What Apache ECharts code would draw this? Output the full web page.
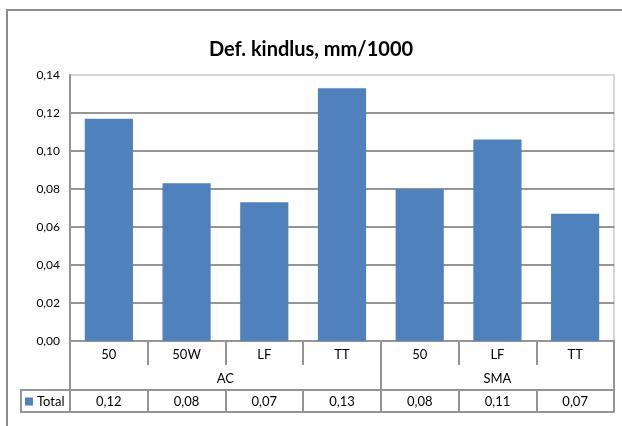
<!DOCTYPE html>
<html>
<head>
<meta charset="utf-8">
<script src="https://cdn.jsdelivr.net/npm/echarts@6/dist/echarts.min.js"></script>
<style>
    html, body { margin: 0; padding: 0; background: #fff; }
    #chart { width: 622px; height: 426px; }
</style>
</head>
<body>
<div id="chart"></div>
<script>
    // data
    const categories = ['50', '50W', 'LF', 'TT', '50', 'LF', 'TT'];
    const groups = ['AC', 'SMA'];
    const groupSizes = [4, 3];
    const totals = [0.117, 0.083, 0.073, 0.133, 0.080, 0.106, 0.067];
    const yMin = 0, yMax = 0.14, yStep = 0.02;

    const fmt = v => v.toFixed(2).replace('.', ',');

    // where each group starts and its centre, in category units
    const groupStarts = [];
    const groupCenters = [];
    let acc = 0;
    groupSizes.forEach(n => {
        groupStarts.push(acc);
        groupCenters.push(acc + n / 2);
        acc += n;
    });

    const lineColor = '#959595';
    const font = 'Lato';

    let chart = echarts.init(document.getElementById('chart'));
    let option = {
        animation: false,
        textStyle: { fontFamily: font, color: '#000' },
        title: {
            text: 'Def. kindlus, mm/1000',
            left: 'center',
            top: 35,
            textStyle: { fontFamily: font, fontSize: 20, fontWeight: 'bold', color: '#000' }
        },
        legend: {
            data: ['Total'],
            left: 25,
            top: 395,
            padding: 0,
            icon: 'rect',
            itemWidth: 8,
            itemHeight: 8,
            itemGap: 4,
            textStyle: { fontFamily: font, fontSize: 13, color: '#000', padding: [0, 0, 0, -1] }
        },
        grid: {
            left: 70, right: 8, top: 75, bottom: 85,
            show: true,
            borderColor: '#d6d6d6',
            borderWidth: 2
        },
        xAxis: [
            {   // sub categories
                type: 'category',
                data: categories,
                position: 'bottom',
                axisLine: { show: true, lineStyle: { color: lineColor, width: 2 } },
                axisTick: { show: true, interval: 0, length: 24, lineStyle: { color: lineColor, width: 2 } },
                axisLabel: { interval: 0, margin: 7, fontSize: 13, color: '#000', fontFamily: font }
            },
            {   // group dividers
                type: 'category',
                data: categories,
                position: 'bottom',
                offset: 24,
                axisLine: { show: false },
                axisLabel: { show: false },
                axisTick: {
                    show: true,
                    interval: i => groupStarts.indexOf(i) >= 0,
                    length: 25,
                    lineStyle: { color: lineColor, width: 2 }
                }
            },
            {   // group labels
                type: 'value',
                min: 0,
                max: categories.length,
                interval: 0.5,
                position: 'bottom',
                offset: 24,
                splitLine: { show: false },
                axisLine: { show: false },
                axisTick: { show: false },
                axisLabel: {
                    margin: 7,
                    fontSize: 13,
                    color: '#000',
                    fontFamily: font,
                    formatter: v => {
                        const k = groupCenters.findIndex(c => Math.abs(c - v) < 1e-6);
                        return k >= 0 ? groups[k] : '';
                    }
                }
            },
            {   // data table row
                type: 'category',
                data: categories,
                position: 'bottom',
                offset: 49,
                axisLine: { show: true, lineStyle: { color: lineColor, width: 2 } },
                axisTick: { show: true, interval: 0, length: 22, lineStyle: { color: lineColor, width: 2 } },
                axisLabel: {
                    interval: 0, margin: 5, fontSize: 13, color: '#000', fontFamily: font,
                    formatter: (v, i) => fmt(totals[i])
                }
            },
            {   // bottom edge of the table
                type: 'category',
                data: categories,
                position: 'bottom',
                offset: 71,
                axisLine: { show: true, lineStyle: { color: lineColor, width: 2 } },
                axisTick: { show: false },
                axisLabel: { show: false }
            }
        ],
        yAxis: {
            type: 'value',
            min: yMin,
            max: yMax,
            interval: yStep,
            axisLine: { show: true, lineStyle: { color: lineColor, width: 2 } },
            axisTick: { show: false },
            axisLabel: { margin: 10, fontSize: 12, color: '#000', fontFamily: font, formatter: v => fmt(v) },
            splitLine: { showMaxLine: false, lineStyle: { color: lineColor, width: 2 } }
        },
        series: [{
            name: 'Total',
            type: 'bar',
            xAxisIndex: 0,
            data: totals,
            barCategoryGap: '38%',
            itemStyle: { color: '#4f81bd' }
        }],
        graphic: [
            {   // outer chart frame
                type: 'rect',
                z: -1,
                shape: { x: 7, y: 10, width: 640, height: 440 },
                style: { fill: null, stroke: '#8c8c8c', lineWidth: 2 }
            },
            {   // legend key cell of the table
                type: 'rect',
                shape: { x: 21, y: 390, width: 49, height: 22 },
                style: { fill: null, stroke: lineColor, lineWidth: 2 }
            }
        ]
    };
    chart.setOption(option);
</script>
</body>
</html>
